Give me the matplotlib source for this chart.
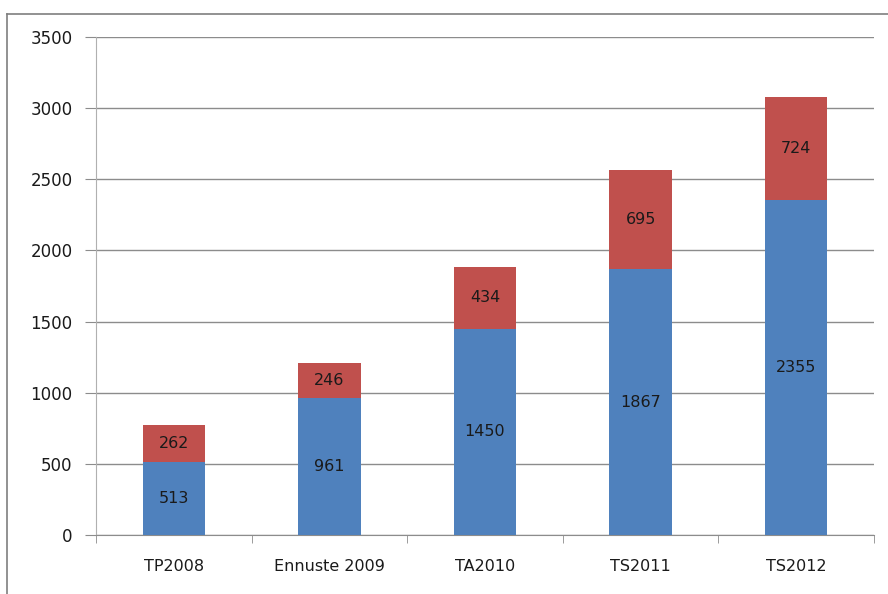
import matplotlib
matplotlib.use("Agg")
import matplotlib.pyplot as plt
from matplotlib.lines import Line2D

categories = ["TP2008", "Ennuste 2009", "TA2010", "TS2011", "TS2012"]
blue_vals = [513, 961, 1450, 1867, 2355]
red_vals = [262, 246, 434, 695, 724]
yticks = [0, 500, 1000, 1500, 2000, 2500, 3000, 3500]

plt.rcParams['font.family'] = ['DejaVu Sans']

W, H = 888, 594
fig = plt.figure(figsize=(W / 100, H / 100), dpi=100)
ax = fig.add_axes([96 / W, 1 - 535 / H, (874 - 96) / W, (535 - 37) / H])

x = list(range(len(categories)))
ax.bar(x, blue_vals, width=0.4, color="#4F81BD", zorder=3)
ax.bar(x, red_vals, width=0.4, bottom=blue_vals, color="#C0504D", zorder=3)

for i in x:
    ax.text(i, blue_vals[i] / 2, str(blue_vals[i]), ha="center", va="center",
            fontsize=11.5, color="#1a1a1a", zorder=4)
    ax.text(i, blue_vals[i] + red_vals[i] / 2, str(red_vals[i]), ha="center", va="center",
            fontsize=11.5, color="#1a1a1a", zorder=4)

ax.set_xlim(-0.5, len(categories) - 0.5)
ax.set_ylim(0, 3500)
ax.set_yticks(yticks)
ax.set_yticklabels([str(v) for v in yticks], fontsize=12, color="#1a1a1a")
ax.yaxis.grid(True, color="#8c8c8c", linewidth=1.0, zorder=0)
ax.set_axisbelow(True)

ax.set_xticks(x)
ax.set_xticklabels(categories, fontsize=11.5, color="#1a1a1a")
ax.tick_params(axis="x", length=0, pad=17)
ax.set_xticks([i - 0.5 for i in range(len(categories) + 1)], minor=True)
ax.tick_params(axis="x", which="minor", length=6, color="#8c8c8c", direction="out")
ax.tick_params(axis="y", length=8, color="#8c8c8c", direction="out", pad=9)

for s in ["top", "right"]:
    ax.spines[s].set_visible(False)
ax.spines["left"].set_color("#b0b0b0")
ax.spines["bottom"].set_color("#8c8c8c")

# figure border lines (top and left)
fig.add_artist(Line2D([7 / W, 1], [1 - 14 / H, 1 - 14 / H], color="#7f7f7f", linewidth=1.2,
                      transform=fig.transFigure))
fig.add_artist(Line2D([7 / W, 7 / W], [0, 1 - 14 / H], color="#7f7f7f", linewidth=1.2,
                      transform=fig.transFigure))

fig.savefig("out.png", dpi=100)
